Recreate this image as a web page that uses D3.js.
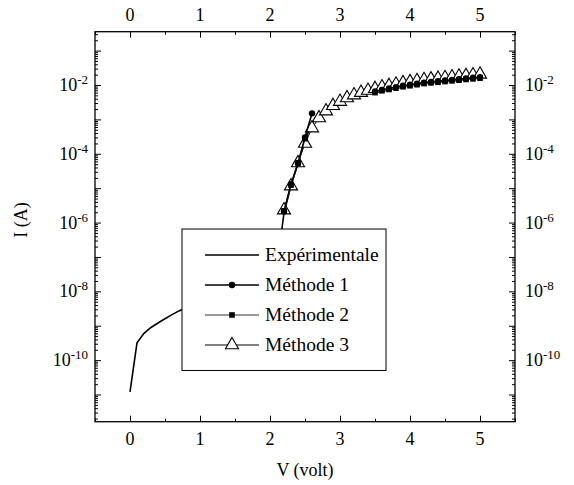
<!DOCTYPE html>
<html><head><meta charset="utf-8">
<script src="https://cdn.jsdelivr.net/npm/d3@7"></script>
<style>
html,body{margin:0;padding:0;background:#fff;}
svg{display:block;font-family:"Liberation Serif","Times New Roman",serif;}
</style></head>
<body>
<svg id="chart" width="574" height="485"></svg>
<script>
// ---- data ----
const expV = [0,0.1,0.2,0.3,0.4,0.5,0.6,0.7,0.8,1.0,1.2,1.4,1.6,1.8,2.0,2.1,2.15,2.2,2.3,2.4,2.5,2.6,2.7,2.8,2.9,3.0,3.2,3.4,3.6,3.8,4.0,4.2,4.4,4.6,4.8,5.0];
const expI = [1.2e-11,3.2e-10,6.0e-10,8.9e-10,1.2e-9,1.6e-9,2.1e-9,2.7e-9,3.4e-9,5.6e-9,1e-8,2e-8,4.5e-8,1.1e-7,1.8e-7,2.5e-7,3.2e-7,1.9e-6,1.2e-5,5.4e-5,2.5e-4,7.9e-4,1.3e-3,1.9e-3,2.5e-3,3.2e-3,4.7e-3,6.2e-3,7.6e-3,8.9e-3,1.05e-2,1.2e-2,1.35e-2,1.48e-2,1.62e-2,1.66e-2];

const m1LowV = [2.2,2.3,2.4,2.5,2.6];
const m1LowI = [2.1e-6,1.3e-5,5.2e-5,3.0e-4,1.5e-3];
const m1HighV = [3.5,3.6,3.7,3.8,3.9,4.0,4.1,4.2,4.3,4.4,4.5,4.6,4.7,4.8,4.9,5.0];
const m1HighI = [6.5e-3,7.2e-3,7.9e-3,8.7e-3,9.5e-3,1.02e-2,1.10e-2,1.17e-2,1.23e-2,1.29e-2,1.35e-2,1.41e-2,1.48e-2,1.55e-2,1.62e-2,1.70e-2];

const m2LowV = [2.2,2.3,2.4,2.5];
const m2LowI = [2.2e-6,1.23e-5,5.5e-5,2.75e-4];
const m2HighV = [3.5,3.6,3.7,3.8,3.9,4.0,4.1,4.2,4.3,4.4,4.5,4.6,4.7,4.8,4.9,5.0];
const m2HighI = [6.0e-3,6.8e-3,7.4e-3,8.1e-3,8.9e-3,9.5e-3,1.02e-2,1.10e-2,1.15e-2,1.20e-2,1.26e-2,1.32e-2,1.38e-2,1.45e-2,1.51e-2,1.58e-2];

const m3V = [2.2,2.3,2.4,2.5,2.6,2.7,2.8,2.9,3.0,3.1,3.2,3.3,3.4,3.5,3.6,3.7,3.8,3.9,4.0,4.1,4.2,4.3,4.4,4.5,4.6,4.7,4.8,4.9,5.0];
const m3I = [2.3e-6,1.15e-5,5.4e-5,2.0e-4,5.6e-4,1.1e-3,1.74e-3,2.5e-3,3.3e-3,4.2e-3,5.1e-3,6.0e-3,6.9e-3,7.8e-3,8.7e-3,9.5e-3,1.05e-2,1.15e-2,1.23e-2,1.32e-2,1.41e-2,1.48e-2,1.55e-2,1.62e-2,1.70e-2,1.78e-2,1.86e-2,1.95e-2,2.04e-2];

const xTicks = [0,1,2,3,4,5];
const xMinorTicks = [-0.5,0.5,1.5,2.5,3.5,4.5,5.5];
const yLabelExps = [-2,-4,-6,-8,-10];
const legendLabels = ["Expérimentale","Méthode 1","Méthode 2","Méthode 3"];

// ---- layout ----
const L = 95, R = 515, T = 31.7, B = 421.7;
const svg = d3.select("#chart");
const x = d3.scaleLinear().domain([-0.5, 5.5]).range([L, R]);
const y = d3.scaleLog().domain([Math.pow(10,-11.79), Math.pow(10,-0.45)]).range([B, T]);

// ticks
const decades = d3.range(-11, 0).map(e => Math.pow(10, e));
const yMinor = [];
for (let e = -12; e <= -1; e++) for (let k = 2; k <= 9; k++) {
  const v = k * Math.pow(10, e);
  if (v > y.domain()[0] && v < y.domain()[1]) yMinor.push(v);
}
function addAxis(axis, tr) {
  const g = svg.append("g").attr("transform", tr).call(axis);
  g.select(".domain").remove();
  g.selectAll("line").attr("stroke", "#000").attr("stroke-width", 1);
  g.selectAll("text").remove();
}
addAxis(d3.axisBottom(x).tickValues(xTicks).tickSize(-6).tickFormat(""), `translate(0,${B})`);
addAxis(d3.axisBottom(x).tickValues(xMinorTicks).tickSize(-3).tickFormat(""), `translate(0,${B})`);
addAxis(d3.axisTop(x).tickValues(xTicks).tickSize(-6).tickFormat(""), `translate(0,${T})`);
addAxis(d3.axisTop(x).tickValues(xMinorTicks).tickSize(-3).tickFormat(""), `translate(0,${T})`);
addAxis(d3.axisLeft(y).tickValues(decades).tickSize(-6).tickFormat(""), `translate(${L},0)`);
addAxis(d3.axisLeft(y).tickValues(yMinor).tickSize(-3).tickFormat(""), `translate(${L},0)`);
addAxis(d3.axisRight(y).tickValues(decades).tickSize(-6).tickFormat(""), `translate(${R},0)`);
addAxis(d3.axisRight(y).tickValues(yMinor).tickSize(-3).tickFormat(""), `translate(${R},0)`);

// frame
svg.append("rect").attr("x", L).attr("y", T).attr("width", R - L).attr("height", B - T)
  .attr("fill", "none").attr("stroke", "#000").attr("stroke-width", 1.3);

// x labels
svg.append("g").selectAll("text").data(xTicks).join("text")
  .attr("x", d => x(d)).attr("y", B + 23).attr("text-anchor", "middle")
  .attr("font-size", 18).text(d => d);
svg.append("g").selectAll("text").data(xTicks).join("text")
  .attr("x", d => x(d)).attr("y", T - 11).attr("text-anchor", "middle")
  .attr("font-size", 18).text(d => d);

// y labels with superscript
function yLabel(e, xpos, anchor) {
  const t = svg.append("text").attr("x", xpos).attr("y", y(Math.pow(10, e)) + 6)
    .attr("text-anchor", anchor).attr("font-size", 18);
  t.append("tspan").text("10");
  t.append("tspan").attr("font-size", 13).attr("dy", -7).text(String(e));
}
yLabelExps.forEach(e => { yLabel(e, L - 7, "end"); yLabel(e, R + 10, "start"); });

// axis titles
svg.append("text").attr("x", x(2.5)).attr("y", 476).attr("text-anchor", "middle")
  .attr("font-size", 18).text("V (volt)");
svg.append("text").attr("transform", "translate(27,220) rotate(-90)")
  .attr("text-anchor", "middle").attr("font-size", 18).text("I (A)");

// series
const line = d3.line().x(d => x(d[0])).y(d => y(d[1]));
const zip = (a, b) => a.map((v, i) => [v, b[i]]);
const plot = svg.append("g");

plot.append("path").attr("d", line(zip(expV, expI))).attr("fill", "none")
  .attr("stroke", "#000").attr("stroke-width", 1.6);

// method 3
const tri = d3.symbol().type(d3.symbolTriangle).size(74);
plot.append("path").attr("d", line(zip(m3V, m3I))).attr("fill", "none").attr("stroke", "#000").attr("stroke-width", 1);
plot.append("g").selectAll("path").data(zip(m3V, m3I)).join("path")
  .attr("d", tri).attr("transform", d => `translate(${x(d[0])},${y(d[1])})`)
  .attr("fill", "#fff").attr("stroke", "#000").attr("stroke-width", 1.1);

// method 2
[[m2LowV, m2LowI], [m2HighV, m2HighI]].forEach(([vv, ii]) => {
  plot.append("path").attr("d", line(zip(vv, ii))).attr("fill", "none").attr("stroke", "#777").attr("stroke-width", 1.3);
  plot.append("g").selectAll("rect").data(zip(vv, ii)).join("rect")
    .attr("x", d => x(d[0]) - 2.8).attr("y", d => y(d[1]) - 2.8).attr("width", 5.6).attr("height", 5.6).attr("fill", "#000");
});
// method 1
[[m1LowV, m1LowI], [m1HighV, m1HighI]].forEach(([vv, ii]) => {
  plot.append("path").attr("d", line(zip(vv, ii))).attr("fill", "none").attr("stroke", "#000").attr("stroke-width", 1.6);
  plot.append("g").selectAll("circle").data(zip(vv, ii)).join("circle")
    .attr("cx", d => x(d[0])).attr("cy", d => y(d[1])).attr("r", 3.2).attr("fill", "#000");
});

// legend
const lg = svg.append("g");
lg.append("rect").attr("x", 182).attr("y", 229).attr("width", 204).attr("height", 141.5)
  .attr("fill", "#fff").attr("stroke", "#000").attr("stroke-width", 1);
const ly = i => 255 + i * 30;
legendLabels.forEach((lab, i) => {
  const cy = ly(i);
  const styles = [["#000",1.6],["#000",1.6],["#777",1.3],["#000",1]][i];
  lg.append("line").attr("x1", 205).attr("x2", 259).attr("y1", cy).attr("y2", cy)
    .attr("stroke", styles[0]).attr("stroke-width", styles[1]);
  if (i === 1) lg.append("circle").attr("cx", 232).attr("cy", cy).attr("r", 3.2).attr("fill", "#000");
  if (i === 2) lg.append("rect").attr("x", 229.2).attr("y", cy - 2.8).attr("width", 5.6).attr("height", 5.6).attr("fill", "#000");
  if (i === 3) lg.append("path").attr("d", tri).attr("transform", `translate(232,${cy})`)
    .attr("fill", "#fff").attr("stroke", "#000").attr("stroke-width", 1.1);
  lg.append("text").attr("x", 265).attr("y", cy + 6).attr("font-size", 19.5).text(lab);
});
</script>
</body></html>
